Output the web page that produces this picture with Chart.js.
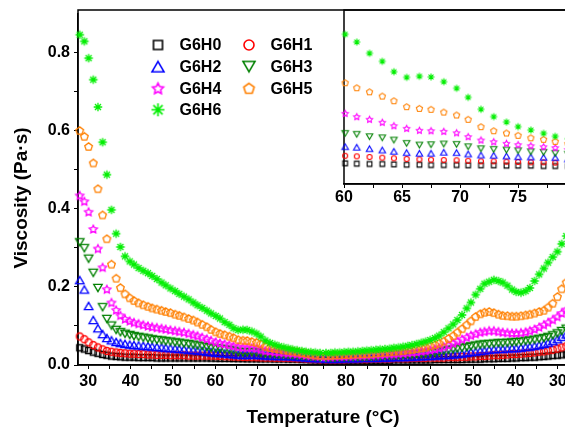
<!DOCTYPE html>
<html>
<head>
<meta charset="utf-8">
<script src="https://cdn.jsdelivr.net/npm/chart.js@4.4.1/dist/chart.umd.min.js"></script>
<style>
  html, body { margin: 0; padding: 0; background: #fff; overflow: hidden; }
  #wrap { position: relative; width: 565px; height: 429px; overflow: hidden; background: #fff; }
  #main { position: absolute; left: 0; top: 0; }
  #inset { position: absolute; left: 300px; top: 0; }
</style>
</head>
<body>
<div id="wrap">
  <canvas id="main" width="575" height="429"></canvas>
  <canvas id="inset" width="285" height="215"></canvas>
</div>
<script>
// ---- data: heating ramp up to the peak, then cooling back down (°C) ----
const peakTemp = 85.4;
const axisStartTemp = 27.6;

const heatTemps = [28.0, 29.1, 30.1, 31.2, 32.3, 33.4, 34.4, 35.5, 36.6, 37.6, 38.7, 39.8, 40.8, 41.9,
  43.0, 44.1, 45.1, 46.2, 47.3, 48.3, 49.4, 50.5, 51.5, 52.6, 53.7, 54.8, 55.8, 56.9, 58.0, 59.0,
  60.1, 61.1, 62.2, 63.3, 64.3, 65.4, 66.5, 67.5, 68.6, 69.7, 70.7, 71.8, 72.9, 74.0, 75.0, 76.1,
  77.2, 78.2, 79.3, 80.4, 81.4, 82.5, 83.6, 84.7];
const coolTemps = [84.7, 83.6, 82.6, 81.5, 80.4, 79.4, 78.3, 77.2, 76.1, 75.1, 74.0, 72.9, 71.9, 70.8,
  69.7, 68.7, 67.6, 66.5, 65.4, 64.4, 63.3, 62.2, 61.2, 60.1, 59.0, 58.0, 56.9, 55.8, 54.7, 53.7,
  52.6, 51.5, 50.5, 49.4, 48.3, 47.3, 46.2, 45.1, 44.0, 43.0, 41.9, 40.8, 39.8, 38.7, 37.6, 36.6,
  35.5, 34.4, 33.3, 32.3, 31.2, 30.1, 29.1, 28.0];

const seriesNames = ['G6H0', 'G6H1', 'G6H2', 'G6H3', 'G6H4', 'G6H5', 'G6H6'];

// viscosity (Pa·s)
const g6h0Heat = [0.044, 0.041, 0.037, 0.033, 0.030, 0.027, 0.025, 0.023, 0.022, 0.021, 0.020,
  0.020, 0.020, 0.019, 0.019, 0.019, 0.019, 0.018, 0.018, 0.018, 0.018, 0.018, 0.018, 0.018, 0.018, 0.018, 0.018, 0.018, 0.018, 0.0177,
  0.0174, 0.0170, 0.0168, 0.0168, 0.0165, 0.0162, 0.0162, 0.0159, 0.0159, 0.0159, 0.0157, 0.0157, 0.0157, 0.0154, 0.0154, 0.0154, 0.0151, 0.0151,
  0.015, 0.014, 0.014, 0.013, 0.013, 0.012];
const g6h1Heat = [0.073, 0.066, 0.058, 0.051, 0.045, 0.040, 0.036, 0.034, 0.032, 0.031, 0.030,
  0.029, 0.029, 0.028, 0.028, 0.027, 0.027, 0.026, 0.026, 0.026, 0.025, 0.025, 0.025, 0.025, 0.024, 0.024, 0.024, 0.024, 0.024, 0.024,
  0.0237, 0.0232, 0.0227, 0.0221, 0.0216, 0.0210, 0.0207, 0.0204, 0.0201, 0.0199, 0.0195, 0.0190, 0.0190, 0.0187, 0.0185, 0.0182, 0.0182, 0.0179,
  0.017, 0.017, 0.016, 0.015, 0.015, 0.014];
const g6h2Heat = [0.217, 0.193, 0.151, 0.115, 0.094, 0.079, 0.069, 0.063, 0.059, 0.056, 0.054,
  0.052, 0.051, 0.050, 0.049, 0.048, 0.047, 0.046, 0.045, 0.044, 0.043, 0.042, 0.041, 0.040, 0.039, 0.038, 0.037, 0.036, 0.034, 0.033,
  0.0313, 0.0308, 0.0296, 0.0285, 0.0274, 0.0263, 0.0258, 0.0258, 0.0266, 0.0263, 0.0252, 0.0243, 0.0241, 0.0235, 0.0229, 0.0227, 0.0224, 0.0221,
  0.021, 0.020, 0.019, 0.018, 0.017, 0.017];
const g6h3Heat = [0.314, 0.299, 0.272, 0.236, 0.197, 0.148, 0.118, 0.101, 0.090, 0.084, 0.080,
  0.077, 0.074, 0.072, 0.070, 0.068, 0.066, 0.064, 0.063, 0.061, 0.060, 0.058, 0.057, 0.055, 0.054, 0.052, 0.050, 0.048, 0.046, 0.044,
  0.0425, 0.0417, 0.0397, 0.0388, 0.0369, 0.0341, 0.0327, 0.0330, 0.0336, 0.0333, 0.0313, 0.0296, 0.0291, 0.0285, 0.0279, 0.0271, 0.0266, 0.0258,
  0.025, 0.024, 0.023, 0.022, 0.021, 0.020];
const g6h4Heat = [0.434, 0.419, 0.392, 0.348, 0.298, 0.250, 0.194, 0.160, 0.141, 0.127, 0.118,
  0.113, 0.109, 0.106, 0.103, 0.100, 0.098, 0.096, 0.094, 0.092, 0.090, 0.088, 0.086, 0.084, 0.081, 0.078, 0.075, 0.071, 0.067, 0.063,
  0.0593, 0.0565, 0.0543, 0.0518, 0.0489, 0.0467, 0.0451, 0.0447, 0.0442, 0.0430, 0.0397, 0.0369, 0.0355, 0.0341, 0.0330, 0.0321, 0.0313, 0.0305,
  0.029, 0.028, 0.026, 0.025, 0.024, 0.023];
const g6h5Heat = [0.600, 0.585, 0.559, 0.517, 0.451, 0.384, 0.323, 0.258, 0.222, 0.198, 0.182,
  0.172, 0.165, 0.159, 0.154, 0.150, 0.146, 0.143, 0.140, 0.137, 0.134, 0.130, 0.127, 0.123, 0.119, 0.115, 0.110, 0.104, 0.098, 0.091,
  0.0850, 0.0808, 0.0774, 0.0738, 0.0699, 0.0649, 0.0635, 0.0627, 0.0604, 0.0579, 0.0543, 0.0481, 0.0447, 0.0428, 0.0409, 0.0388, 0.0375, 0.0358,
  0.034, 0.032, 0.030, 0.028, 0.026, 0.025];
const g6h6Heat = [0.845, 0.828, 0.785, 0.730, 0.660, 0.570, 0.487, 0.397, 0.336, 0.302, 0.278,
  0.265, 0.257, 0.248, 0.241, 0.235, 0.228, 0.220, 0.211, 0.204, 0.196, 0.189, 0.182, 0.175, 0.168, 0.160, 0.153, 0.146, 0.139, 0.132,
  0.1256, 0.1191, 0.1097, 0.1029, 0.0942, 0.0895, 0.0904, 0.0898, 0.0858, 0.0803, 0.0727, 0.0627, 0.0565, 0.0520, 0.0481, 0.0453, 0.0425, 0.0400,
  0.038, 0.036, 0.034, 0.033, 0.032, 0.031];

const g6h0Cool = [0.012, 0.012, 0.012, 0.012, 0.012, 0.012, 0.012, 0.012, 0.012, 0.012,
  0.012, 0.012, 0.012, 0.012, 0.012, 0.013, 0.013, 0.013, 0.013, 0.013,
  0.013, 0.013, 0.013, 0.013, 0.014, 0.014, 0.014, 0.014, 0.014, 0.014,
  0.014, 0.015, 0.015, 0.015, 0.015, 0.016, 0.016, 0.016, 0.017, 0.017,
  0.017, 0.018, 0.018, 0.019, 0.019, 0.020, 0.020, 0.021, 0.022, 0.023,
  0.024, 0.025, 0.026, 0.028];
const g6h1Cool = [0.014, 0.014, 0.014, 0.014, 0.014, 0.015, 0.015, 0.015, 0.015, 0.015,
  0.016, 0.016, 0.016, 0.016, 0.016, 0.017, 0.017, 0.017, 0.017, 0.018,
  0.018, 0.018, 0.018, 0.019, 0.019, 0.019, 0.019, 0.020, 0.020, 0.020,
  0.021, 0.021, 0.022, 0.022, 0.023, 0.023, 0.024, 0.025, 0.025, 0.026,
  0.027, 0.028, 0.028, 0.029, 0.030, 0.031, 0.032, 0.034, 0.035, 0.037,
  0.039, 0.042, 0.045, 0.048];
const g6h2Cool = [0.016, 0.016, 0.016, 0.016, 0.017, 0.017, 0.017, 0.017, 0.018, 0.018,
  0.018, 0.018, 0.019, 0.019, 0.019, 0.020, 0.020, 0.020, 0.021, 0.021,
  0.022, 0.022, 0.023, 0.023, 0.024, 0.025, 0.025, 0.026, 0.027, 0.028,
  0.029, 0.031, 0.033, 0.034, 0.036, 0.037, 0.039, 0.040, 0.041, 0.041,
  0.042, 0.043, 0.043, 0.044, 0.046, 0.047, 0.049, 0.051, 0.054, 0.057,
  0.061, 0.066, 0.072, 0.078];
const g6h3Cool = [0.019, 0.019, 0.019, 0.020, 0.020, 0.020, 0.021, 0.021, 0.021, 0.022,
  0.022, 0.023, 0.023, 0.024, 0.024, 0.025, 0.025, 0.026, 0.027, 0.027,
  0.028, 0.029, 0.030, 0.031, 0.032, 0.034, 0.036, 0.038, 0.040, 0.042,
  0.044, 0.046, 0.048, 0.050, 0.052, 0.053, 0.054, 0.055, 0.056, 0.056,
  0.057, 0.058, 0.059, 0.060, 0.062, 0.063, 0.065, 0.067, 0.069, 0.072,
  0.076, 0.081, 0.087, 0.093];
const g6h4Cool = [0.022, 0.022, 0.023, 0.023, 0.023, 0.024, 0.024, 0.025, 0.025, 0.026,
  0.026, 0.027, 0.027, 0.028, 0.029, 0.029, 0.030, 0.031, 0.032, 0.033,
  0.034, 0.036, 0.037, 0.039, 0.041, 0.044, 0.047, 0.051, 0.056, 0.061,
  0.066, 0.071, 0.076, 0.080, 0.084, 0.086, 0.088, 0.088, 0.086, 0.084,
  0.083, 0.082, 0.082, 0.083, 0.085, 0.088, 0.092, 0.097, 0.103, 0.109,
  0.116, 0.124, 0.133, 0.142];
const g6h5Cool = [0.025, 0.025, 0.026, 0.026, 0.027, 0.027, 0.028, 0.028, 0.029, 0.029,
  0.030, 0.031, 0.032, 0.033, 0.034, 0.035, 0.036, 0.037, 0.039, 0.040,
  0.042, 0.044, 0.046, 0.049, 0.052, 0.056, 0.061, 0.068, 0.075, 0.084,
  0.093, 0.103, 0.113, 0.124, 0.131, 0.135, 0.137, 0.134, 0.130, 0.127,
  0.126, 0.125, 0.125, 0.126, 0.128, 0.130, 0.133, 0.137, 0.140, 0.148,
  0.158, 0.175, 0.195, 0.212];
const g6h6Cool = [0.031, 0.031, 0.032, 0.032, 0.033, 0.034, 0.034, 0.035, 0.036, 0.037,
  0.038, 0.039, 0.040, 0.041, 0.042, 0.044, 0.045, 0.047, 0.049, 0.051,
  0.054, 0.057, 0.060, 0.064, 0.069, 0.075, 0.084, 0.094, 0.104, 0.115,
  0.128, 0.145, 0.160, 0.180, 0.195, 0.208, 0.213, 0.218, 0.215, 0.211,
  0.203, 0.193, 0.187, 0.185, 0.189, 0.197, 0.215, 0.232, 0.247, 0.262,
  0.276, 0.290, 0.310, 0.330];

// tick labels
const xTickTemps = [30, 35, 40, 45, 50, 55, 60, 65, 70, 75, 80];
const yTickValues = [0, 0.1, 0.2, 0.3, 0.4, 0.5, 0.6, 0.7, 0.8];
const insetTickTemps = [60, 62.5, 65, 67.5, 70, 72.5, 75, 77.5, 80];

const heatSets = [g6h0Heat, g6h1Heat, g6h2Heat, g6h3Heat, g6h4Heat, g6h5Heat, g6h6Heat];
const coolSets = [g6h0Cool, g6h1Cool, g6h2Cool, g6h3Cool, g6h4Cool, g6h5Cool, g6h6Cool];

// ---- styles ----
const FONT = '"Liberation Sans", Arial, Helvetica, sans-serif';
const colors = ['#000000', '#ff0000', '#0000ff', '#008000', '#ff00ff', '#ff8000', '#00ee00'];
const shapes = ['square', 'circle', 'triangle', 'triangleDown', 'star', 'pentagon', 'asterisk'];
const plotSize = { square: 6, circle: 7, triangle: 8.5, triangleDown: 8.5, star: 8.5, pentagon: 8, asterisk: 8.5 };
const insetSize = { square: 4.7, circle: 5, triangle: 6.5, triangleDown: 6.5, star: 6.5, pentagon: 6.5, asterisk: 7 };
const legendSize = { square: 9, circle: 10, triangle: 12, triangleDown: 12, star: 11.5, pentagon: 11, asterisk: 13 };
const frameTop = 10;

Chart.defaults.font.family = FONT;
Chart.defaults.color = '#000';

// hollow marker drawn on a small canvas, used as pointStyle
function makeMarker(shape, color, size, lw) {
  const dim = Math.ceil(size + lw * 2 + 2);
  const c = document.createElement('canvas');
  c.width = dim; c.height = dim;
  const g = c.getContext('2d');
  const m = dim / 2, r = size / 2;
  g.strokeStyle = color;
  g.lineWidth = lw;
  g.beginPath();
  if (shape === 'square') {
    g.rect(m - r, m - r, size, size);
  } else if (shape === 'circle') {
    g.arc(m, m, r, 0, Math.PI * 2);
  } else if (shape === 'triangle' || shape === 'triangleDown') {
    const R = size / Math.sqrt(3), dir = shape === 'triangle' ? 1 : -1;
    const cy = m + dir * R / 4;
    for (let k = 0; k < 3; k++) {
      const a = -Math.PI / 2 + k * 2 * Math.PI / 3;
      const px = m + R * Math.cos(a), py = cy + dir * R * Math.sin(a);
      if (k) g.lineTo(px, py); else g.moveTo(px, py);
    }
    g.closePath();
  } else if (shape === 'star') {
    const cy = m + r * 0.1;
    for (let k = 0; k < 10; k++) {
      const a = -Math.PI / 2 + k * Math.PI / 5;
      const rr = k % 2 ? r * 0.5 : r;
      const px = m + rr * Math.cos(a), py = cy + rr * Math.sin(a);
      if (k) g.lineTo(px, py); else g.moveTo(px, py);
    }
    g.closePath();
  } else if (shape === 'pentagon') {
    const cy = m + r * 0.1;
    for (let k = 0; k < 5; k++) {
      const a = -Math.PI / 2 + k * 2 * Math.PI / 5;
      const px = m + r * Math.cos(a), py = cy + r * Math.sin(a);
      if (k) g.lineTo(px, py); else g.moveTo(px, py);
    }
    g.closePath();
  } else if (shape === 'asterisk') {
    for (let k = 0; k < 4; k++) {
      const a = k * Math.PI / 4;
      g.moveTo(m - r * Math.cos(a), m - r * Math.sin(a));
      g.lineTo(m + r * Math.cos(a), m + r * Math.sin(a));
    }
  }
  g.stroke();
  return c;
}

// position on the x axis: heating leg then mirrored cooling leg
function coolPos(t) { return 2 * peakTemp - t; }
function posToTemp(v) { return v <= peakTemp + 1e-6 ? v : coolPos(v); }

const xTickPositions = xTickTemps.concat([peakTemp], xTickTemps.slice().reverse().map(coolPos));

// box around the plot area
const framePlugin = {
  id: 'frame',
  beforeDatasetsDraw(chart) {
    const { ctx, chartArea: a } = chart;
    ctx.save();
    ctx.strokeStyle = '#000';
    ctx.lineWidth = 1.5;
    ctx.beginPath();
    ctx.moveTo(a.left, a.bottom);
    ctx.lineTo(a.left, frameTop);
    ctx.lineTo(a.right, frameTop);
    ctx.lineTo(a.right, a.bottom);
    ctx.closePath();
    ctx.stroke();
    ctx.restore();
  }
};

const legendPlugin = {
  id: 'boxLegend',
  afterDraw(chart) {
    const ctx = chart.ctx;
    ctx.save();
    ctx.font = 'bold 16px ' + FONT;
    ctx.fillStyle = '#000';
    ctx.textAlign = 'left';
    ctx.textBaseline = 'middle';
    seriesNames.forEach((name, s) => {
      const col = s % 2, row = Math.floor(s / 2);
      const mx = col ? 249 : 158;
      const my = 45 + row * 21.6;
      const img = makeMarker(shapes[s], colors[s], legendSize[shapes[s]], 1.6);
      ctx.drawImage(img, mx - img.width / 2, my - img.height / 2);
      ctx.fillText(name, mx + 21.5, my + 1);
    });
    ctx.restore();
  }
};

const yTitlePlugin = {
  id: 'yTitle',
  afterDraw(chart) {
    const ctx = chart.ctx;
    ctx.save();
    ctx.translate(22, 198);
    ctx.rotate(-Math.PI / 2);
    ctx.font = 'bold 19px ' + FONT;
    ctx.fillStyle = '#000';
    ctx.textAlign = 'center';
    ctx.textBaseline = 'middle';
    ctx.fillText('Viscosity (Pa\u00b7s)', 0, 0);
    ctx.restore();
  }
};

const tickGrid = { display: true, drawOnChartArea: false, drawTicks: true, tickLength: 4, color: '#000', lineWidth: 1 };
const tickFont = { size: 16, weight: 'bold' };

// main chart
const mainSets = seriesNames.map((name, s) => ({
  label: name,
  data: heatTemps.map((t, i) => ({ x: t, y: heatSets[s][i] }))
    .concat(coolTemps.map((t, i) => ({ x: coolPos(t), y: coolSets[s][i] }))),
  pointStyle: makeMarker(shapes[s], colors[s], plotSize[shapes[s]], 1.3),
  pointRadius: 4,
  showLine: false,
  clip: false,
  order: seriesNames.length - 1 - s
}));

new Chart(document.getElementById('main'), {
  type: 'scatter',
  data: { datasets: mainSets },
  options: {
    responsive: false,
    animation: false,
    events: [],
    layout: { padding: { left: 0, top: frameTop, right: 7, bottom: 0 } },
    plugins: { legend: { display: false }, tooltip: { enabled: false } },
    scales: {
      x: {
        type: 'linear',
        min: axisStartTemp,
        max: coolPos(axisStartTemp),
        afterBuildTicks: ax => { ax.ticks = xTickPositions.map(v => ({ value: v })); },
        afterFit: ax => { ax.height = 64; },
        grid: tickGrid,
        border: { display: true, color: '#000', width: 1.5 },
        ticks: {
          autoSkip: false, maxRotation: 0, minRotation: 0, padding: 3, color: '#000', font: tickFont,
          callback: v => {
            if (Math.abs(v - peakTemp) < 1e-6) return '';
            const t = Math.round(posToTemp(v) * 10) / 10;
            return t % 10 === 0 ? String(t) : '';
          }
        },
        title: { display: true, text: 'Temperature (\u00b0C)', color: '#000', font: { size: 19, weight: 'bold' }, padding: 0 }
      },
      y: {
        min: 0,
        max: 0.899,
        afterBuildTicks: ax => { ax.ticks = yTickValues.map(v => ({ value: v })); },
        afterFit: ax => { ax.width = 78; },
        grid: tickGrid,
        border: { display: true, color: '#000', width: 1.5 },
        ticks: {
          padding: 4, color: '#000', font: tickFont,
          callback: v => (Math.round(v * 10) % 2 === 0 ? v.toFixed(1) : '')
        }
      }
    }
  },
  plugins: [framePlugin, legendPlugin, yTitlePlugin]
});

// inset: heating leg, 60-80 °C
const insetSets = seriesNames.map((name, s) => ({
  label: name,
  data: heatTemps.map((t, i) => ({ x: t, y: heatSets[s][i] })).filter(p => p.x >= 60 && p.x <= 80),
  pointStyle: makeMarker(shapes[s], colors[s], insetSize[shapes[s]], 1.1),
  pointRadius: 3,
  showLine: false,
  clip: false,
  order: seriesNames.length - 1 - s
}));

new Chart(document.getElementById('inset'), {
  type: 'scatter',
  data: { datasets: insetSets },
  options: {
    responsive: false,
    animation: false,
    events: [],
    layout: { padding: { left: 0, top: frameTop, right: 6, bottom: 0 } },
    plugins: { legend: { display: false }, tooltip: { enabled: false } },
    scales: {
      x: {
        type: 'linear',
        min: 60,
        max: 80,
        afterBuildTicks: ax => { ax.ticks = insetTickTemps.map(v => ({ value: v })); },
        afterFit: ax => { ax.height = 31; },
        grid: tickGrid,
        border: { display: true, color: '#000', width: 1.5 },
        ticks: {
          autoSkip: false, maxRotation: 0, minRotation: 0, padding: 0, color: '#000', font: tickFont,
          callback: v => (v % 5 === 0 ? String(v) : '')
        }
      },
      y: {
        min: 0,
        max: 0.146,
        afterFit: ax => { ax.width = 44; },
        grid: { display: false },
        border: { display: false },
        ticks: { display: false }
      }
    }
  },
  plugins: [framePlugin]
});
</script>
</body>
</html>
